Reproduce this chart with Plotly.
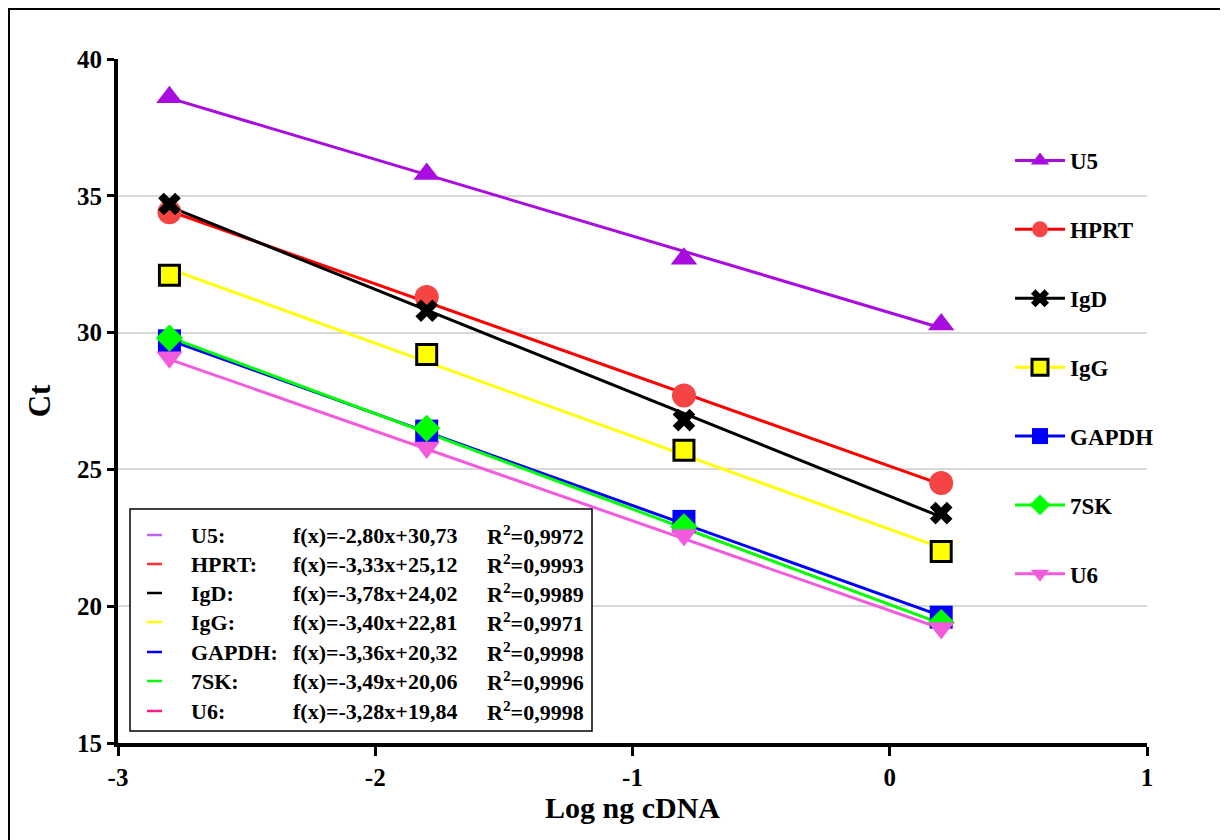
import plotly.graph_objects as go

# ---- data ----
genes = ["U5", "HPRT", "IgD", "IgG", "GAPDH", "7SK", "U6"]
log_ng = [-2.8, -1.8, -0.8, 0.2]
ct_U5 = [38.6, 35.8, 32.7, 30.3]
ct_HPRT = [34.4, 31.3, 27.7, 24.5]
ct_IgD = [34.7, 30.8, 26.8, 23.4]
ct_IgG = [32.1, 29.2, 25.7, 22.0]
ct_GAPDH = [29.7, 26.4, 23.1, 19.6]
ct_7SK = [29.8, 26.5, 22.9, 19.4]
ct_U6 = [29.1, 25.8, 22.6, 19.2]
slopes = [-2.80, -3.33, -3.78, -3.40, -3.36, -3.49, -3.28]
intercepts = [30.73, 25.12, 24.02, 22.81, 20.32, 20.06, 19.84]
r2 = ["0,9972", "0,9993", "0,9989", "0,9971", "0,9998", "0,9996", "0,9998"]
eq_text = ["-2,80x+30,73", "-3,33x+25,12", "-3,78x+24,02", "-3,40x+22,81",
           "-3,36x+20,32", "-3,49x+20,06", "-3,28x+19,84"]
x_ticks = [-3, -2, -1, 0, 1]
y_ticks = [15, 20, 25, 30, 35, 40]

cts = [ct_U5, ct_HPRT, ct_IgD, ct_IgG, ct_GAPDH, ct_7SK, ct_U6]

# ---- styles ----
FONT = "Liberation Serif"
marker_colors = ["#A80CE0", "#F44444", "#000000", "#FFFF00", "#0000FF", "#00FF00", "#F25CDC"]
line_colors = ["#A80CE0", "#FF0000", "#000000", "#FFFF00", "#0000FF", "#00FF00", "#F25CDC"]
box_line_colors = ["#C060F0", "#FF3030", "#000000", "#FFFF00", "#0000FF", "#00FF00", "#FF1A8C"]
symbols = ["triangle-up", "circle", "x", "square", "square", "diamond", "triangle-down"]
sizes = [23, 24, 20, 20, 23, 21, 23]
mline_w = [0, 0, 0, 3, 0, 0, 0]
mline_c = ["#000"] * 7

fig = go.Figure()

for i, g in enumerate(genes):
    x0, x1 = log_ng[0], log_ng[-1]
    fig.add_trace(go.Scatter(
        x=[x0, x1], y=[slopes[i] * x0 + intercepts[i], slopes[i] * x1 + intercepts[i]],
        mode="lines", line=dict(color=line_colors[i], width=3),
        showlegend=False, hoverinfo="skip"))

for i, g in enumerate(genes):
    fig.add_trace(go.Scatter(
        x=log_ng, y=cts[i], mode="markers", name=g,
        marker=dict(symbol=symbols[i], size=sizes[i], color=marker_colors[i],
                    line=dict(width=mline_w[i], color=mline_c[i])),
        showlegend=False))

for i, g in enumerate(genes):
    fig.add_trace(go.Scatter(
        x=[None], y=[None], mode="lines+markers", name=f"<b>{g}</b>", legendgroup=g,
        line=dict(color=line_colors[i], width=3),
        marker=dict(symbol=symbols[i], size=sizes[i], color=marker_colors[i],
                    line=dict(width=mline_w[i], color=mline_c[i]))))

# page offset (browser body margin) and plot area in window pixels
OFF = 8
W, H = 1228 - OFF, 840 - OFF
L, R, T, B = 118 - OFF, 1147 - OFF, 59 - OFF, 743 - OFF
def px(xw):
    return (xw - OFF - L) / (R - L)
def py(yw):
    return (B - (yw - OFF)) / (B - T)

shapes = []
annotations = []

# outer frame
shapes.append(dict(type="rect", xref="paper", yref="paper",
                   x0=px(9), x1=px(1260), y0=py(880), y1=py(9),
                   line=dict(color="black", width=2), fillcolor="rgba(0,0,0,0)", layer="below"))

# equation box
shapes.append(dict(type="rect", xref="paper", yref="paper",
                   x0=px(130), x1=px(592), y0=py(731), y1=py(509),
                   line=dict(color="black", width=1.5), fillcolor="white", layer="above"))

row_y = [535, 564, 593, 622, 652, 681, 711]
for i, g in enumerate(genes):
    yy = py(row_y[i])
    shapes.append(dict(type="line", xref="paper", yref="paper",
                       x0=px(147), x1=px(162), y0=yy, y1=yy,
                       line=dict(color=box_line_colors[i], width=2.5), layer="above"))
    annotations.append(dict(xref="paper", yref="paper", x=px(189), y=yy, xanchor="left",
                            yanchor="middle", showarrow=False, text=f"<b>{g}:</b>",
                            font=dict(family=FONT, size=22, color="black")))
    annotations.append(dict(xref="paper", yref="paper", x=px(291), y=yy, xanchor="left",
                            yanchor="middle", showarrow=False, text=f"<b>f(x)={eq_text[i]}</b>",
                            font=dict(family=FONT, size=22, color="black")))
    annotations.append(dict(xref="paper", yref="paper", x=px(485), y=yy, xanchor="left",
                            yanchor="middle", showarrow=False,
                            text=f"<b>R<sup>2</sup>={r2[i]}</b>",
                            font=dict(family=FONT, size=22, color="black")))

fig.update_layout(
    width=W, height=H,
    margin=dict(l=L, r=W - R, t=T, b=H - B),
    paper_bgcolor="white", plot_bgcolor="white",
    font=dict(family=FONT, color="black"),
    shapes=shapes, annotations=annotations,
    legend=dict(x=px(1010), y=py(139), xanchor="left", yanchor="top",
                font=dict(family=FONT, size=23, color="black"),
                bgcolor="rgba(0,0,0,0)", tracegroupgap=36, itemsizing="trace",
                itemwidth=50),
    xaxis=dict(range=[-3, 1], tickvals=x_ticks, ticktext=[f"<b>{v}</b>" for v in x_ticks],
               showgrid=False, zeroline=False, showline=True, linecolor="black", linewidth=4,
               ticks="outside", ticklen=9, tickwidth=3, tickcolor="black",
               tickfont=dict(family=FONT, size=25, color="black"),
               title=dict(text="<b>Log ng cDNA</b>", font=dict(family=FONT, size=30, color="black"),
                          standoff=4)),
    yaxis=dict(range=[15, 40], tickvals=y_ticks, ticktext=[f"<b>{v}</b>" for v in y_ticks],
               showgrid=True, gridcolor="#D8D8D8", gridwidth=1.5, zeroline=False,
               showline=True, linecolor="black", linewidth=4,
               ticks="outside", ticklen=7, tickwidth=3, tickcolor="black",
               tickfont=dict(family=FONT, size=25, color="black"),
               title=dict(text="<b>Ct</b>", font=dict(family=FONT, size=31, color="black"),
                          standoff=18)),
)

fig.write_html("out.html")
